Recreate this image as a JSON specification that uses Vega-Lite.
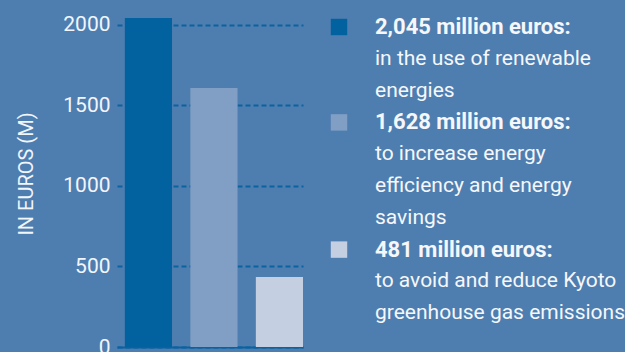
{
  "$schema": "https://vega.github.io/schema/vega-lite/v6.json",
  "background": "#4e7eb0",
  "padding": {"left": 16, "top": 0, "right": 0, "bottom": 0},
  "config": {"view": {"stroke": null}, "font": "Roboto"},
  "spacing": 26,
  "datasets": {
    "bars": [
      {"item": "renewable energies", "value": 2043},
      {"item": "energy efficiency and savings", "value": 1608},
      {"item": "Kyoto greenhouse gas emissions", "value": 435}
    ],
    "legend": [
      {"item": "renewable energies", "line": 1, "role": "amount", "text": "2,045 million euros:"},
      {"item": "renewable energies", "line": 2, "role": "description", "text": "in the use of renewable"},
      {"item": "renewable energies", "line": 3, "role": "description", "text": "energies"},
      {"item": "energy efficiency and savings", "line": 4, "role": "amount", "text": "1,628 million euros:"},
      {"item": "energy efficiency and savings", "line": 5, "role": "description", "text": "to increase energy"},
      {"item": "energy efficiency and savings", "line": 6, "role": "description", "text": "efficiency and energy"},
      {"item": "energy efficiency and savings", "line": 7, "role": "description", "text": "savings"},
      {"item": "Kyoto greenhouse gas emissions", "line": 8, "role": "amount", "text": "481 million euros:"},
      {"item": "Kyoto greenhouse gas emissions", "line": 9, "role": "description", "text": "to avoid and reduce Kyoto"},
      {"item": "Kyoto greenhouse gas emissions", "line": 10, "role": "description", "text": "greenhouse gas emissions"}
    ]
  },
  "hconcat": [
    {
      "width": 186,
      "height": 347,
      "data": {"name": "bars"},
      "mark": {"type": "bar"},
      "encoding": {
        "x": {
          "field": "item", "type": "nominal", "sort": null,
          "scale": {"paddingInner": 0.28, "paddingOuter": 0.06, "align": 1},
          "axis": {"labels": false, "ticks": false, "title": null, "domainColor": "#0a62a0", "domainWidth": 2}
        },
        "y": {
          "field": "value", "type": "quantitative",
          "scale": {"domain": [0, 2155], "nice": false},
          "axis": {
            "title": "IN EUROS (M)", "titleFontSize": 20, "titleFontWeight": "normal", "titleColor": "#f2f5fa", "titlePadding": 26,
            "values": [0, 500, 1000, 1500, 2000], "format": "d",
            "labelFontSize": 21, "labelColor": "#f2f5fa", "labelPadding": 7,
            "ticks": false, "domain": false,
            "grid": true, "gridColor": "#0a62a0", "gridWidth": 2, "gridDash": [5, 3], "gridOpacity": 1
          }
        },
        "color": {
          "field": "item", "type": "nominal", "sort": null,
          "scale": {"domain": ["renewable energies", "energy efficiency and savings", "Kyoto greenhouse gas emissions"], "range": ["#02629f", "#819fc5", "#c5cfe2"]},
          "legend": null
        }
      }
    },
    {
      "width": 36,
      "height": 347,
      "data": {"name": "legend"},
      "encoding": {
        "y": {"field": "line", "type": "quantitative", "scale": {"domain": [0.151, 11.063], "reverse": true, "nice": false, "zero": false}, "axis": null}
      },
      "layer": [
        {
          "transform": [{"filter": "datum.role === 'amount'"}],
          "mark": {"type": "square", "size": 270, "opacity": 1},
          "encoding": {
            "x": {"datum": 0, "type": "quantitative", "scale": {"domain": [0, 1]}, "axis": null},
            "color": {
              "field": "item", "type": "nominal", "sort": null,
              "scale": {"domain": ["renewable energies", "energy efficiency and savings", "Kyoto greenhouse gas emissions"], "range": ["#02629f", "#819fc5", "#c5cfe2"]},
              "legend": null
            }
          }
        },
        {
          "transform": [{"filter": "datum.role === 'amount'"}],
          "mark": {"type": "text", "align": "left", "baseline": "middle", "fontSize": 22, "fontWeight": "bold", "color": "#f5f7fa"},
          "encoding": {
            "x": {"datum": 1, "type": "quantitative", "scale": {"domain": [0, 1]}, "axis": null},
            "text": {"field": "text"}
          }
        },
        {
          "transform": [{"filter": "datum.role === 'description'"}],
          "mark": {"type": "text", "align": "left", "baseline": "middle", "fontSize": 21, "color": "#f5f7fa"},
          "encoding": {
            "x": {"datum": 1, "type": "quantitative", "scale": {"domain": [0, 1]}, "axis": null},
            "text": {"field": "text"}
          }
        }
      ]
    }
  ]
}
